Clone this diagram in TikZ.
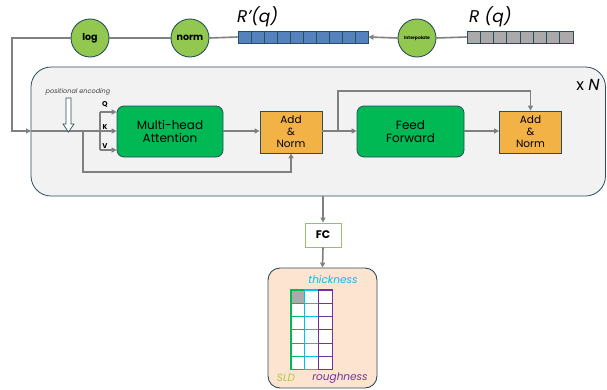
\documentclass[tikz,border=0pt]{standalone}
\usepackage{fontspec}
\setmainfont{Poppins}
\usetikzlibrary{arrows.meta}
\definecolor{linegray}{RGB}{128,128,128}
\definecolor{darkteal}{RGB}{40,80,90}
\definecolor{circgreen}{RGB}{146,200,80}
\definecolor{boxgreen}{RGB}{0,185,85}
\definecolor{boxorange}{RGB}{242,178,70}
\definecolor{panelfill}{RGB}{242,242,242}
\definecolor{barblue}{RGB}{85,130,190}
\definecolor{bargray}{RGB}{170,170,170}
\definecolor{peach}{RGB}{252,228,208}
\definecolor{fcgreen}{RGB}{150,190,110}
\definecolor{gridgreen}{RGB}{0,185,85}
\definecolor{gridcyan}{RGB}{0,190,240}
\definecolor{gridpurple}{RGB}{112,48,160}
\definecolor{sldcol}{RGB}{175,200,60}
\begin{document}
\begin{tikzpicture}[x=1pt,y=-1pt,
  conn/.style={draw=linegray, line width=1.6pt},
  arr/.style={conn, -{Triangle[length=5pt,width=5pt]}},
  circ/.style={circle, draw=darkteal, fill=circgreen, line width=0.9pt, minimum size=38pt, inner sep=0pt, font=\bfseries\fontsize{9.5}{10}\selectfont},
  block/.style={draw=darkteal, line width=0.8pt, fill=boxgreen, rounded corners=7pt, align=center, font=\fontsize{12}{13.5}\selectfont, inner sep=0pt},
  addnorm/.style={draw=darkteal, line width=0.8pt, fill=boxorange, align=center, font=\fontsize{10.5}{12}\selectfont, inner sep=0pt, minimum width=62pt, minimum height=42pt},
  bar/.style={draw=darkteal, line width=0.9pt, inner sep=0pt, minimum height=12pt},
  qkv/.style={font=\bfseries\fontsize{7}{8}\selectfont, inner sep=0pt}
]
\useasboundingbox (0,0) rectangle (607,389);
% panel
\draw[draw=darkteal, fill=panelfill, line width=0.8pt, rounded corners=20pt] (31,67) rectangle (605.5,196);
\node[font=\fontsize{16}{17}\selectfont, inner sep=0pt] (xn) at (588,85) {x \textit{N}};

% top row
\node[circ] (log) at (90,38) {log};
\node[circ] (norm) at (190,38) {norm};
\node[circ, font=\bfseries\fontsize{4.5}{5}\selectfont] (interp) at (417,38) {Interpolate};
\node[bar, fill=barblue, minimum width=130pt] (rpbar) at (303,37) {};
\foreach \i in {1,...,9} \draw[darkteal, line width=0.9pt] (238+13*\i,31) -- (238+13*\i,43);
\node[bar, fill=bargray, minimum width=106pt] (rbar) at (520,37) {};
\foreach \i in {1,...,7} \draw[darkteal, line width=0.9pt] (467+13.25*\i,31) -- (467+13.25*\i,43);
\node[font=\itshape\fontsize{17}{18}\selectfont, inner sep=0pt, anchor=west] (rplab) at (237,17) {R'(q)};
\node[font=\itshape\fontsize{17}{18}\selectfont, inner sep=0pt, anchor=west] (rlab) at (469,17) {R (q)};

\draw[conn] (rbar.west) -- (interp.east);
\draw[arr] (interp.west) -- (rpbar.east);
\draw[conn] (rpbar.west) -- (norm.east);
\draw[conn] (norm.west) -- (log.east);
\coordinate (corner) at (12,38);
\coordinate (pin) at (31,131);
\coordinate (split) at (100,131);
\coordinate (resid) at (83,131);
\draw[arr] (log.west) -- (corner) |- (pin);
\draw[conn] (pin) -- (split);

% positional encoding
\node[font=\itshape\fontsize{6.5}{7}\selectfont, text=darkgray, inner sep=0pt] (pe) at (78,92) {positional encoding};
\draw[darkteal, fill=white, line width=0.7pt] (66,98) -- (71,98) -- (71,124) -- (74,124) -- (68.5,132) -- (63,124) -- (66,124) -- cycle;

% blocks
\node[block, minimum width=106pt, minimum height=51pt] (mha) at (170,131.5) {Multi-head\\Attention};
\node[addnorm] (an1) at (291,132) {Add\\\&\\Norm};
\node[block, minimum width=107pt, minimum height=51pt] (ff) at (410.5,131.5) {Feed\\Forward};
\node[addnorm] (an2) at (530.5,132) {Add\\\&\\Norm};

% QKV
\coordinate (qs) at (100,112);
\coordinate (vs) at (100,150);
\draw[conn] (qs) -- (vs);
\draw[arr] (qs) -- (qs -| mha.west);
\draw[arr] (split) -- (split -| mha.west);
\draw[arr] (vs) -- (vs -| mha.west);
\node[qkv] (q) at (105,104) {Q};
\node[qkv] (k) at (105,127) {K};
\node[qkv] (v) at (105,146) {V};

% residuals
\coordinate (rb) at (83,172);
\draw[arr] (resid) -- (rb) -| (an1.south);
\draw[arr] (mha.east |- split) -- (an1.west |- split);
\coordinate (b2) at (338,131);
\draw[arr] (an1.east |- split) -- (ff.west |- split);
\draw[arr] (b2) -- (338,91) -| (an2.north);
\draw[arr] (ff.east |- split) -- (an2.west |- split);

% FC and output
\coordinate (pout) at (323,196);
\node[draw=fcgreen, fill=white, line width=0.9pt, minimum width=36pt, minimum height=24pt, inner sep=0pt, font=\bfseries\fontsize{11}{12}\selectfont] (fc) at (323,235) {FC};
\node[draw=darkteal, fill=peach, line width=0.9pt, rounded corners=12pt, minimum width=109pt, minimum height=120pt, inner sep=0pt] (out) at (322.5,328) {};
\draw[arr] (pout) -- (fc.north);
\draw[arr] (fc.south) -- (out.north);

% grid
\fill[white] (291,290) rectangle (332.1,369.8);
\fill[bargray] (291,290) rectangle (304.7,303.3);
\foreach \c/\col in {0/gridgreen,1/gridcyan,2/gridpurple}{
  \foreach \r in {0,...,5}{
    \draw[\col, line width=1.1pt] (291+13.7*\c,290+13.3*\r) rectangle (291+13.7*\c+13.7,290+13.3*\r+13.3);
  }
}
\node[font=\itshape\fontsize{10.5}{11}\selectfont, text=gridcyan, inner sep=0pt] (thick) at (333,280) {thickness};
\node[font=\itshape\fontsize{10.5}{11}\selectfont, text=sldcol, inner sep=0pt] (sld) at (286,378) {SLD};
\node[font=\itshape\fontsize{10.5}{11}\selectfont, text=gridpurple, inner sep=0pt] (rough) at (340,378) {roughness};
\end{tikzpicture}
\end{document}
